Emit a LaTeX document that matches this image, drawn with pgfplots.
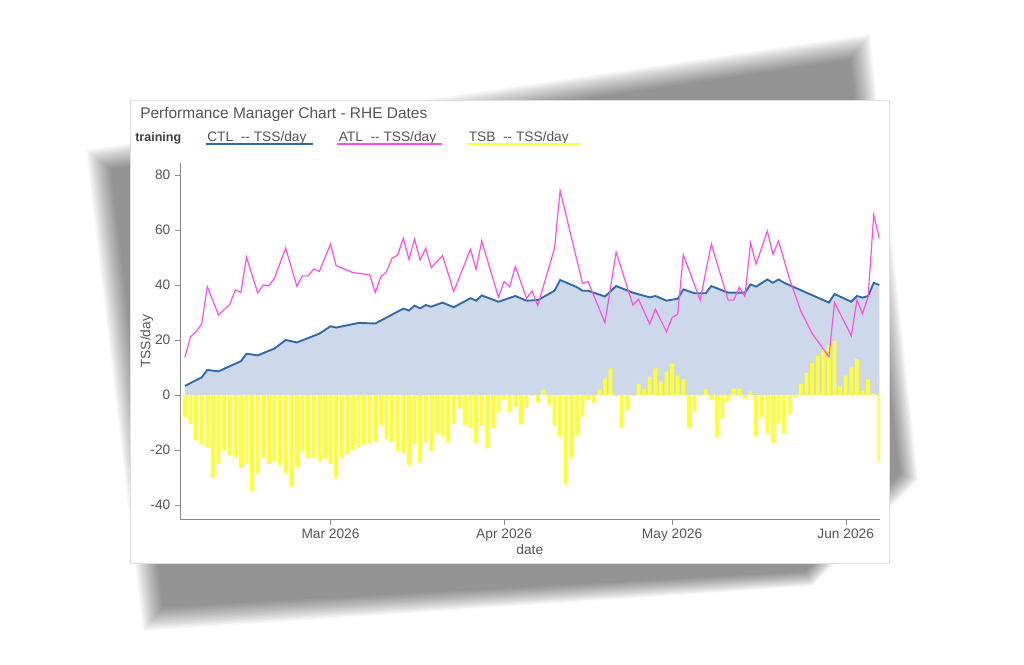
\documentclass[border=0pt]{standalone}
\usepackage{fontspec}
\setmainfont{Liberation Sans}
\usepackage{pgfplots}
\usepackage{pgfplotstable}
\pgfplotsset{compat=1.18}
\usetikzlibrary{calc}

\definecolor{ctlblue}{HTML}{2E69AD}
\definecolor{ctlfill}{HTML}{CDD9EA}
\definecolor{atlpink}{HTML}{FF4FE6}
\definecolor{tsbyellow}{HTML}{FFFF33}
\definecolor{txtgray}{HTML}{555555}
\definecolor{axgray}{HTML}{8A8A8A}

% days counted from 1 March 2026
\pgfplotstableread{
day tsb
-26 -8
-25 -10.5
-24 -16.5
-23 -18
-22 -19
-21 -30
-20 -25
-19 -20
-18 -22
-17 -22.5
-16 -26.5
-15 -25
-14 -35
-13 -28.5
-12 -22.5
-11 -25
-10 -24
-9 -25.5
-8 -28.5
-7 -33.5
-6 -26.5
-5 -20.5
-4 -23
-3 -22.5
-2 -24
-1 -23
0 -25
1 -30
2 -22.5
3 -21.5
4 -20
5 -19
6 -18
7 -17.5
8 -17
9 -11
10 -16
11 -17
12 -20.5
13 -21
14 -25.5
15 -18
16 -24.5
17 -17
18 -20.5
19 -14
20 -15
21 -17
22 -10.5
23 -5
24 -11
25 -12
26 -17.5
27 -11
28 -19.4
29 -12
30 -6.4
31 -1.6
32 -6.3
33 -4.2
34 -10.7
35 -4.8
36 -0.2
37 -2.7
38 1.8
39 -3.6
40 -11.3
41 -15.2
42 -32.5
43 -22.8
44 -15
45 -8
46 -2
47 -3
48 2
49 6
50 9.7
51 -0.3
52 -12
53 -5.5
54 -0.3
55 4
56 2
57 6.4
58 9.7
59 4.8
60 8.5
61 11.5
62 7
63 5.7
64 -12
65 -6
66 -0.5
67 2
68 -2
69 -15.4
70 -8.5
71 -2.4
72 2.3
73 2.3
74 -1.3
75 1.2
76 -15
77 -8
78 -14
79 -17.6
80 -10.3
81 -14
82 -7
83 -1
84 4
85 8
86 11.5
87 14.2
88 16.4
89 18.2
90 19.6
91 3
92 7
93 10
94 13
95 1.6
96 5.7
97 0.6
98 -24
}\tsbtable

\pgfplotstableread{
day ctl
-26 3.3
-23 6.4
-22 9.1
-20 8.6
-16 12.3
-15 15
-13 14.4
-10 16.9
-8 20
-6 19.1
-2 22.3
0 25
1 24.5
5 26.2
8 26
13 31.4
14 30.7
15 32.5
16 31.5
17 32.7
18 32.1
20 33.6
22 31.9
25 35.2
26 34.3
27 36.2
30 33.9
33 36
35 34.3
37 34.5
40 37.9
41 41.8
44 39.2
45 37.9
46 37.9
49 35.8
51 39.6
54 37.2
57 35.5
58 36
60 34.3
62 35
63 38.4
65 37
67 37
68 39.6
71 37.2
74 37.2
75 40.2
76 39.4
78 42
79 40.8
80 42
81 40.8
89 33.6
90 36.7
93 33.9
94 36
95 35.4
96 36
97 40.8
98 40
}\ctltable

\pgfplotstableread{
day atl
-26 13.7
-25 21.2
-24 23
-23 25.8
-22 39.4
-20 29.1
-18 32.9
-17 38.2
-16 37.3
-15 50.1
-13 37.1
-12 40
-11 39.7
-10 42.5
-8 53.4
-6 39.5
-5 43.3
-4 43.3
-3 45.8
-2 44.9
0 54.9
1 47
4 44.5
7 43.7
8 37.3
9 43
10 44.8
11 49.7
12 50.9
13 57
14 49.3
15 56.7
16 49.1
17 53.3
18 46.3
20 50.7
22 37.6
25 53
26 45.7
27 56
30 35.5
31 41.2
32 39.4
33 46.7
35 35.2
36 37.8
37 32.5
40 53.3
41 74.3
45 40.6
46 41.2
49 26.3
51 51.9
54 32.7
55 34.8
57 25.8
58 31.2
60 23
61 28.2
62 29.4
63 51
66 34.5
68 54.9
71 34.5
72 34.5
73 39.2
74 35.8
75 55.3
76 47.6
78 59.6
79 51.2
80 56
82 42
84 30.4
86 22.4
89 13.9
90 33.6
93 21.5
94 34.5
95 29.5
96 35.8
97 65.5
98 57
}\atltable

\begin{document}
\begin{tikzpicture}[x=0.75pt,y=-0.75pt]
\path[use as bounding box, fill=white] (0,0) rectangle (1024,664);

% soft, tilted drop shadow behind the card (stacked translucent insets)
\coordinate (A) at (86,150);
\coordinate (B) at (870,34);
\coordinate (C) at (918,480);
\coordinate (E) at (812,586);
\coordinate (D) at (143,631);
\foreach \k in {0,...,15}{
  \pgfmathsetmacro\t{\k*1.125}
  \fill[black, opacity=0.0314]
    ($(A)!\t pt!(B)+(A)!\t pt!(D)-(A)$) --
    ($(B)!\t pt!(C)+(B)!\t pt!(A)-(B)$) --
    ($(C)!\t pt!(E)+(C)!\t pt!(B)-(C)$) --
    ($(E)!\t pt!(D)+(E)!\t pt!(C)-(E)$) --
    ($(D)!\t pt!(A)+(D)!\t pt!(E)-(D)$) -- cycle;
}

% card
\fill[white] (130,100) rectangle (889,563);
\draw[black!12] (130,100) rectangle (889,563);

% title and legend
\node[anchor=base west, text=txtgray, inner sep=0pt, font=\fontsize{11.6}{13}\selectfont] at (140,118) {Performance Manager Chart - RHE Dates};
\node[anchor=base west, text=black!75, inner sep=0pt, font=\bfseries\fontsize{9.4}{11}\selectfont] at (135,141.5) {training};
\node[anchor=base west, text=txtgray, inner sep=0pt, font=\fontsize{10.3}{12}\selectfont] at (207,141.5) {CTL\ \ -{}- TSS/day};
\node[anchor=base west, text=txtgray, inner sep=0pt, font=\fontsize{10.3}{12}\selectfont] at (338.5,141.5) {ATL\ \ -{}- TSS/day};
\node[anchor=base west, text=txtgray, inner sep=0pt, font=\fontsize{10.3}{12}\selectfont] at (468.5,141.5) {TSB\ \ -{}- TSS/day};
\draw[ctlblue, line width=1.3pt] (206,144) -- (313,144);
\draw[atlpink, line width=1.3pt] (337,144) -- (442,144);
\draw[tsbyellow, line width=1.3pt] (466.5,144) -- (579.5,144);

\begin{axis}[
  at={(135pt,-389.625pt)}, anchor=south west,
  scale only axis, width=524.7pt, height=267.4pt,
  xmin=-26.875, xmax=98.05, ymin=-45.27, ymax=84.36,
  axis x line*=bottom, axis y line*=left,
  axis line style={-, axgray},
  xtick={0,31,61,92},
  xticklabels={Mar 2026, Apr 2026, May 2026, Jun 2026},
  ytick={-40,-20,0,20,40,60,80},
  tick align=outside, major tick length=3.75pt,
  tick style={axgray},
  /pgf/number format/assume math mode=true,
  tick label style={font=\fontsize{10.3}{12}\selectfont, text=txtgray},
  label style={font=\fontsize{10.3}{12}\selectfont, text=txtgray},
  xlabel={date}, ylabel={TSS/day},
  xlabel style={yshift=4.5pt},
  ylabel style={yshift=-9pt},
]
\addplot[fill=ctlfill, draw=none, mark=none] table[x=day, y=ctl] {\ctltable} \closedcycle;
\addplot[ybar, bar width=0.7, bar shift=0pt, fill=tsbyellow, draw=none, mark=none] table[x=day, y=tsb] {\tsbtable};
\addplot[ctlblue, line width=1.4pt, mark=none] table[x=day, y=ctl] {\ctltable};
\addplot[atlpink, line width=0.9pt, mark=none] table[x=day, y=atl] {\atltable};
\end{axis}
\end{tikzpicture}
\end{document}
